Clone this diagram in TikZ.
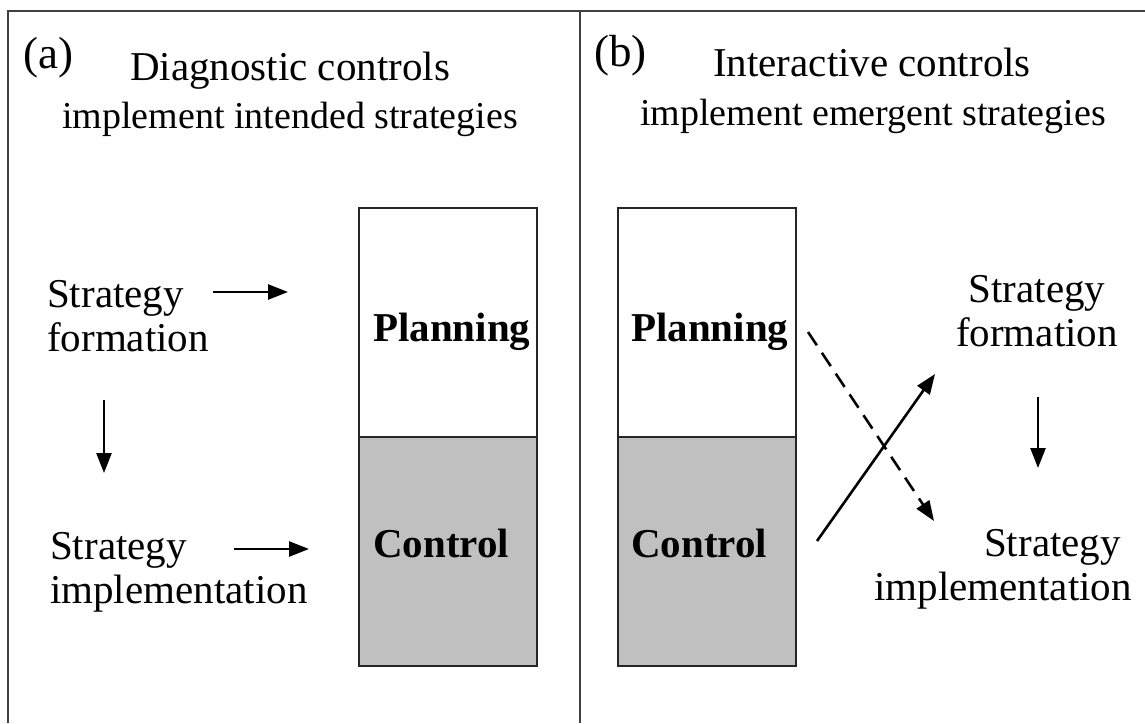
\documentclass[tikz,border=0pt]{standalone}
\usepackage{fontspec}
\setmainfont{Liberation Serif}
\usetikzlibrary{arrows.meta}
\begin{document}
\begin{tikzpicture}[x=1pt,y=-1pt,
  frameline/.style={line width=1.3pt,draw=black!75},
  boxline/.style={line width=1.8pt,draw=black!85},
  txt/.style={font=\fontsize{41}{46}\selectfont,inner sep=0pt},
  sub/.style={font=\fontsize{38}{42}\selectfont,inner sep=0pt},
  lbl/.style={font=\fontsize{45}{50}\selectfont,inner sep=0pt},
  bold/.style={font=\fontsize{41}{46}\selectfont\bfseries,inner sep=0pt},
  arr/.style={line width=2.6pt,-{Triangle[length=20pt,width=15pt]}},
  darr/.style={arr,dash pattern=on 16pt off 9pt}]
\useasboundingbox (0,0) rectangle (1145,723);
% frame
\draw[frameline] (8,723) -- (8,11) -- (1150,11);
\draw[frameline] (580,11) -- (580,723);
% boxes
\filldraw[boxline,fill=white] (359,208) rectangle (537,437);
\filldraw[boxline,fill={rgb,255:red,192;green,192;blue,192}] (359,437) rectangle (537,666);
\filldraw[boxline,fill=white] (618,208) rectangle (796,437);
\filldraw[boxline,fill={rgb,255:red,192;green,192;blue,192}] (618,437) rectangle (796,666);
\node[bold,anchor=base west] (pa) at (373,341) {Planning};
\node[bold,anchor=base west] (ca) at (373,557) {Control};
\node[bold,anchor=base west] (pb) at (631,341) {Planning};
\node[bold,anchor=base west] (cb) at (631,557) {Control};
% titles
\node[lbl,anchor=base west] (la) at (23,68) {(a)};
\node[txt,anchor=base] (ta1) at (290,80) {Diagnostic controls};
\node[sub,anchor=base] (ta2) at (290,128) {implement intended strategies};
\node[lbl,anchor=base west] (lb) at (594,66) {(b)};
\node[txt,anchor=base] (tb1) at (872,76) {Interactive controls};
\node[sub,anchor=base] (tb2) at (873,125) {implement emergent strategies};
% left texts
\node[txt,anchor=base west] (sfa1) at (47,307) {Strategy};
\node[txt,anchor=base west] (sfa2) at (47,351) {formation};
\node[txt,anchor=base west] (sia1) at (50,559) {Strategy};
\node[txt,anchor=base west] (sia2) at (50,603) {implementation};
% right texts
\node[txt,anchor=base] (sfb1) at (1037,302) {Strategy};
\node[txt,anchor=base] (sfb2) at (1037,346) {formation};
\node[txt,anchor=base east] (sib1) at (1121,556) {Strategy};
\node[txt,anchor=base east] (sib2) at (1132,600) {implementation};
% arrows left
\coordinate (a1s) at (213,292); \coordinate (a1e) at (288,292);
\coordinate (a2s) at (104,400); \coordinate (a2e) at (104,473);
\coordinate (a3s) at (234,549); \coordinate (a3e) at (309,549);
\draw[arr] (a1s) -- (a1e);
\draw[arr] (a2s) -- (a2e);
\draw[arr] (a3s) -- (a3e);
% arrows right
\coordinate (b1s) at (817,541); \coordinate (b1e) at (935,374);
\coordinate (b2s) at (808,332); \coordinate (b2e) at (934,521);
\coordinate (b3s) at (1038,397); \coordinate (b3e) at (1038,468);
\draw[arr] (b1s) -- (b1e);
\draw[darr] (b2s) -- (b2e);
\draw[arr] (b3s) -- (b3e);
\end{tikzpicture}
\end{document}
